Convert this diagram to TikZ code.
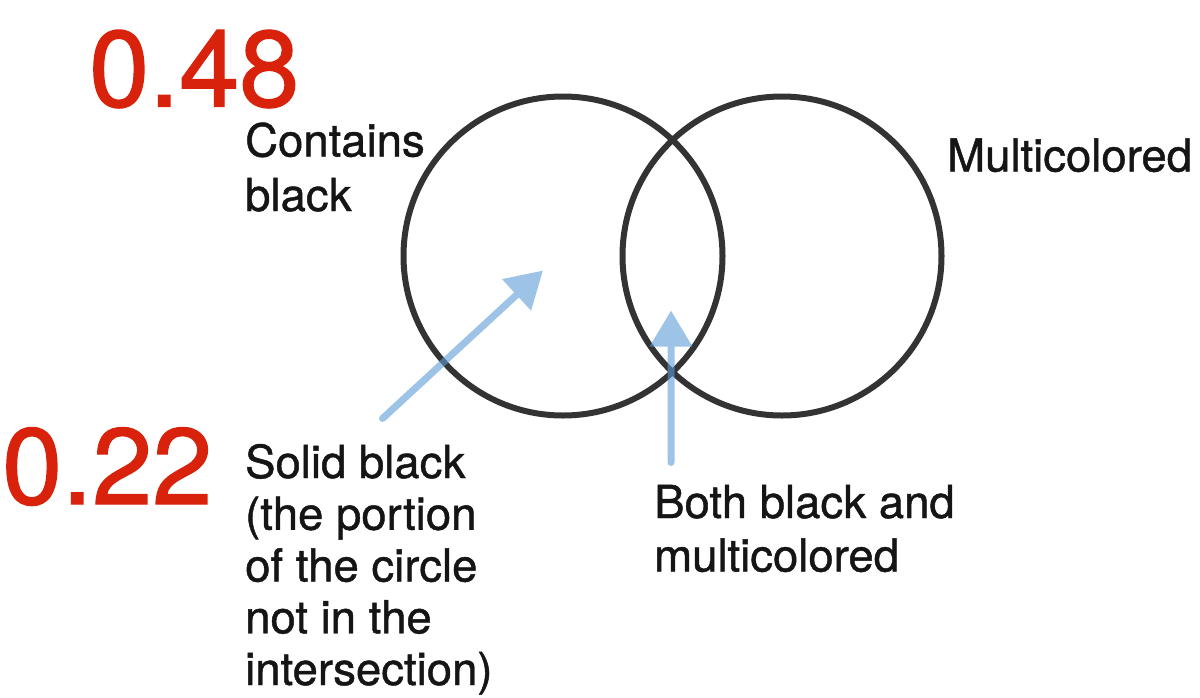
\documentclass[tikz,border=0pt]{standalone}
\usepackage{fontspec}
\setmainfont{TeX Gyre Heros}
\newfontfamily\lblfont{TeX Gyre Heros}[FakeBold=1.0]
\newfontfamily\numfont{TeX Gyre Heros}[FakeBold=1.2]
\usetikzlibrary{arrows.meta}
\definecolor{ringgray}{HTML}{333333}
\definecolor{numred}{HTML}{D8220B}
\definecolor{arrowblue}{RGB}{91,155,213}
\definecolor{textblack}{HTML}{151515}
\tikzset{
  ring/.style={draw=ringgray, line width=6pt},
  bignum/.style={anchor=base west, inner sep=0pt, text=numred, font=\numfont\fontsize{108}{120}\selectfont},
  label/.style={anchor=base west, inner sep=0pt, align=left, text=textblack, font=\lblfont\fontsize{45.5}{54}\selectfont},
  pointer/.style={draw=arrowblue, line width=7pt, line cap=round,
     -{Triangle[length=36pt, width=41pt, fill=arrowblue]}},
}
\begin{document}
\begin{tikzpicture}[x=1pt, y=-1pt]
\useasboundingbox (0,0) rectangle (1200,697);
% circles
\node[ring, circle, minimum size=319pt, inner sep=0pt] (black) at (563,256) {};
\node[ring, circle, minimum size=319pt, inner sep=0pt] (multi) at (782,256) {};
% numbers
\node[bignum] (n48) at (89,106.5) {0.48};
\node[bignum] (n22) at (2,504) {0.22};
% labels (anchor = baseline of the last line)
\node[label, font=\lblfont\fontsize{45.5}{54.5}\selectfont] (lblack) at (245,211) {Contains\\black};
\node[label] (lmulti) at (947,171.5) {Multicolored};
\node[label, font=\lblfont\fontsize{45.5}{51.75}\selectfont] (lsolid) at (245,685) {Solid black\\(the portion\\of the circle\\not in the\\intersection)};
\node[label, font=\lblfont\fontsize{45.5}{53.5}\selectfont] (lboth) at (654,571.5) {Both black and\\multicolored};
% arrows
\coordinate (t1) at (382.5,418.5);
\coordinate (h1) at (543,270.5);
\coordinate (t2) at (671,462.5);
\coordinate (h2) at (671,310.5);
\begin{scope}[transparency group, opacity=0.6]
\draw[pointer] (t1) -- (h1);
\end{scope}
\begin{scope}[transparency group, opacity=0.6]
\draw[pointer] (t2) -- (h2);
\end{scope}
\end{tikzpicture}
\end{document}
